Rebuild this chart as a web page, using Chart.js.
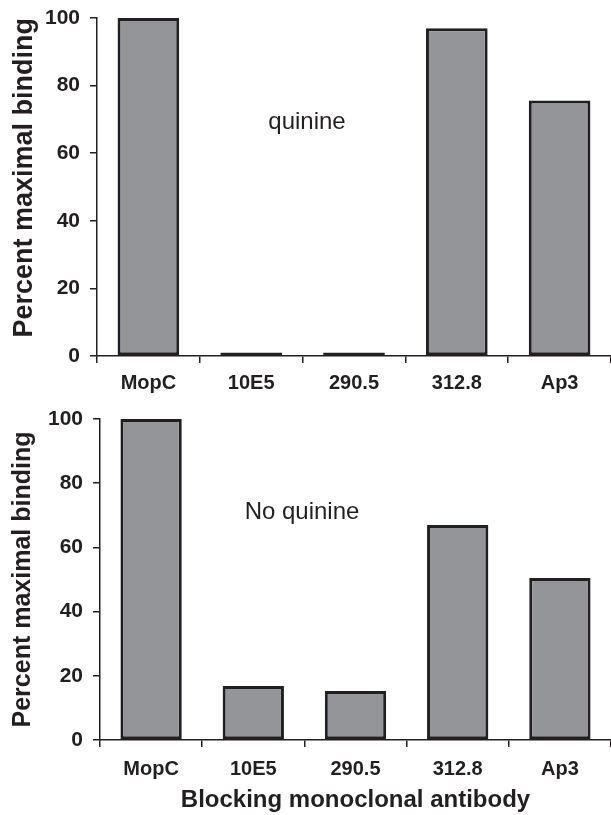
<!DOCTYPE html>
<html>
<head>
<meta charset="utf-8">
<script src="https://cdn.jsdelivr.net/npm/chart.js@4"></script>
<style>
  body { margin: 0; background: #fff; }
  canvas { display: block; }
</style>
</head>
<body>
<canvas id="top" width="611" height="395"></canvas>
<canvas id="bottom" width="611" height="420"></canvas>
<script>
// data
const antibodies = ['MopC', '10E5', '290.5', '312.8', 'Ap3']
const withQuinine = [100, 1, 1, 97, 75.6]
const noQuinine = [100, 16.8, 15.3, 67, 50.5]
const yTicks = [0, 20, 40, 60, 80, 100]

const ink = '#231f20'
const barGray = '#939598'

// small label inside plot ("quinine" / "No quinine")
const noteLabel = {
  id: 'noteLabel',
  afterDraw(chart, args, opts) {
    const ctx = chart.ctx
    const x = chart.chartArea.left + opts.dx
    const y = chart.scales.y.getPixelForValue(opts.at)
    ctx.save()
    ctx.font = '24px "Liberation Sans", Arial, sans-serif'
    ctx.fillStyle = ink
    ctx.textAlign = 'center'
    ctx.textBaseline = 'middle'
    ctx.fillText(opts.text, x, y)
    ctx.restore()
  }
}

function makeChart(id, values, note, opts) {
  return new Chart(document.getElementById(id), {
    type: 'bar',
    data: {
      labels: antibodies,
      datasets: [{
        data: values,
        backgroundColor: barGray,
        borderColor: ink,
        borderWidth: 3,
        borderSkipped: false,
        barPercentage: 0.6,
        categoryPercentage: 1
      }]
    },
    plugins: [noteLabel],
    options: {
      responsive: false,
      animation: false,
      layout: { padding: { top: opts.top, right: 0, left: 0, bottom: 0 } },
      plugins: {
        legend: { display: false },
        tooltip: { enabled: false },
        noteLabel: { text: note, dx: opts.noteDx, at: opts.noteAt }
      },
      scales: {
        x: {
          grid: { offset: true, drawOnChartArea: false, drawTicks: true, tickLength: 7, color: ink, lineWidth: 1.5 },
          border: { color: ink, width: 1.5 },
          ticks: { color: ink, padding: opts.xPad, font: { family: '"Liberation Sans", Arial', size: 20, weight: 'bold' } },
          title: {
            display: !!opts.xTitle,
            text: opts.xTitle || '',
            color: ink,
            padding: { top: 4, bottom: 0 },
            font: { family: '"Liberation Sans", Arial', size: 24, weight: 'bold' }
          },
          afterFit: s => { s.height = opts.xHeight }
        },
        y: {
          min: 0,
          max: 100,
          afterBuildTicks: s => { s.ticks = yTicks.map(v => ({ value: v })) },
          grid: { drawOnChartArea: false, drawTicks: true, tickLength: 7, color: ink, lineWidth: 1.5 },
          border: { color: ink, width: 1.5 },
          ticks: { color: ink, padding: 10, font: { family: '"Liberation Sans", Arial', size: 21, weight: 'bold' } },
          title: {
            display: true,
            text: 'Percent maximal binding',
            color: ink,
            align: opts.yTitleAlign,
            padding: { top: 8, bottom: 0 },
            font: { family: '"Liberation Sans", Arial', size: opts.yTitleSize, weight: 'bold' }
          },
          afterFit: s => {
            s.width = opts.yWidth
            s.paddingTop = 0
            s.paddingBottom = 0
          }
        }
      }
    }
  })
}

makeChart('top', withQuinine, 'quinine', {
  top: 18, xHeight: 39, yWidth: 97, xPad: 8, noteDx: 210, noteAt: 69,
  yTitleSize: 27, yTitleAlign: 'end'
})
makeChart('bottom', noQuinine, 'No quinine', {
  top: 24, xHeight: 75, yWidth: 100, xPad: 10, noteDx: 202, noteAt: 71,
  yTitleSize: 25, yTitleAlign: 'center',
  xTitle: 'Blocking monoclonal antibody'
})
</script>
</body>
</html>
